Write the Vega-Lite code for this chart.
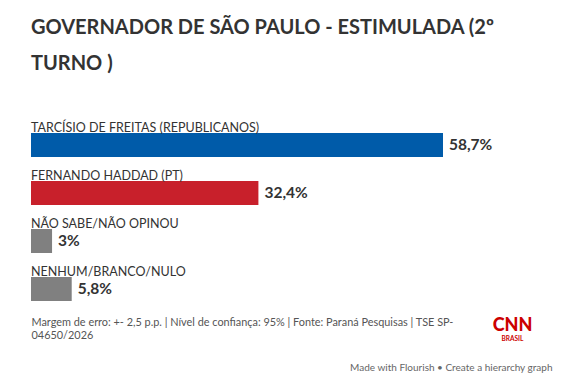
{
  "$schema": "https://vega.github.io/schema/vega-lite/v6.json",
  "width": 412,
  "height": 216,
  "autosize": {"type": "none"},
  "padding": {"left": 31, "top": 109, "right": 120, "bottom": 63},
  "background": "white",
  "config": {
    "view": {"stroke": null},
    "font": "Lato",
    "locale": {"number": {"decimal": ",", "thousands": ".", "grouping": [3], "currency": ["R$ ", ""]}}
  },
  "title": {
    "text": ["GOVERNADOR DE SÃO PAULO - ESTIMULADA (2º", "TURNO )"],
    "anchor": "start",
    "font": "Lato",
    "fontSize": 20,
    "fontWeight": "bold",
    "color": "#333333",
    "lineHeight": 36,
    "offset": 35
  },
  "data": {
    "values": [
      {"candidato": "TARCÍSIO DE FREITAS (REPUBLICANOS)", "pct": 0.587},
      {"candidato": "FERNANDO HADDAD (PT)", "pct": 0.324},
      {"candidato": "NÃO SABE/NÃO OPINOU", "pct": 0.03},
      {"candidato": "NENHUM/BRANCO/NULO", "pct": 0.058}
    ]
  },
  "layer": [
    {
      "mark": {"type": "bar"},
      "encoding": {
        "y": {
          "field": "candidato", "type": "nominal", "sort": null,
          "scale": {"paddingInner": 0.5, "paddingOuter": 0.5},
          "axis": {
            "labels": false, "ticks": false, "domain": false, "grid": false,
            "title": "CNN", "titleAngle": 0, "titleX": 481, "titleY": 221,
            "titleAlign": "center", "titleBaseline": "alphabetic",
            "titleFont": "Lato", "titleFontSize": 18, "titleFontWeight": 900, "titleColor": "#cc0000"
          }
        },
        "x": {
          "field": "pct", "type": "quantitative",
          "scale": {"domain": [0, 0.587], "nice": false},
          "axis": {
            "labels": false, "ticks": false, "domain": false, "grid": false,
            "title": ["Margem de erro: +- 2,5 p.p. | Nível de confiança: 95% | Fonte: Paraná Pesquisas | TSE SP-", "04650/2026"],
            "titleX": 0, "titleY": 0.7, "titleAlign": "left", "titleAnchor": "start",
            "titleBaseline": "alphabetic", "titleLineHeight": 12.5,
            "titleFont": "Lato", "titleFontSize": 10.9, "titleFontWeight": "normal", "titleColor": "#555555"
          }
        },
        "color": {
          "field": "candidato", "type": "nominal", "legend": null,
          "scale": {
            "domain": ["TARCÍSIO DE FREITAS (REPUBLICANOS)", "FERNANDO HADDAD (PT)", "NÃO SABE/NÃO OPINOU", "NENHUM/BRANCO/NULO"],
            "range": ["#005ba9", "#c8202b", "#808080", "#808080"]
          }
        }
      }
    },
    {
      "mark": {"type": "text", "align": "left", "baseline": "middle", "dx": 6, "font": "Lato", "fontSize": 15.5, "fontWeight": "bold", "color": "#333333"},
      "encoding": {
        "y": {"field": "candidato", "type": "nominal", "sort": null, "axis": null},
        "x": {"field": "pct", "type": "quantitative", "axis": null},
        "text": {"field": "pct", "type": "quantitative", "format": ".1~%"}
      }
    },
    {
      "mark": {"type": "text", "align": "left", "baseline": "alphabetic", "dy": -13.3, "font": "Lato", "fontSize": 12.5, "color": "#333333"},
      "encoding": {
        "y": {
          "field": "candidato", "type": "nominal", "sort": null,
          "axis": {
            "labels": false, "ticks": false, "domain": false, "grid": false,
            "title": "Made with Flourish • Create a hierarchy graph", "titleAngle": 0,
            "titleX": 109, "titleY": 261, "titleAlign": "right", "titleBaseline": "alphabetic",
            "titleFont": "Lato", "titleFontSize": 10, "titleFontWeight": "normal", "titleColor": "#666666"
          }
        },
        "x": {
          "datum": 0, "type": "quantitative",
          "axis": {
            "labels": false, "ticks": false, "domain": false, "grid": false,
            "title": "BRASIL", "titleX": 481, "titleY": 231, "titleAlign": "center",
            "titleBaseline": "alphabetic", "titleFont": "Lato", "titleFontSize": 6.5,
            "titleFontWeight": "bold", "titleColor": "#cc0000"
          }
        },
        "text": {"field": "candidato", "type": "nominal"}
      }
    }
  ],
  "resolve": {"axis": {"x": "independent", "y": "independent"}}
}
